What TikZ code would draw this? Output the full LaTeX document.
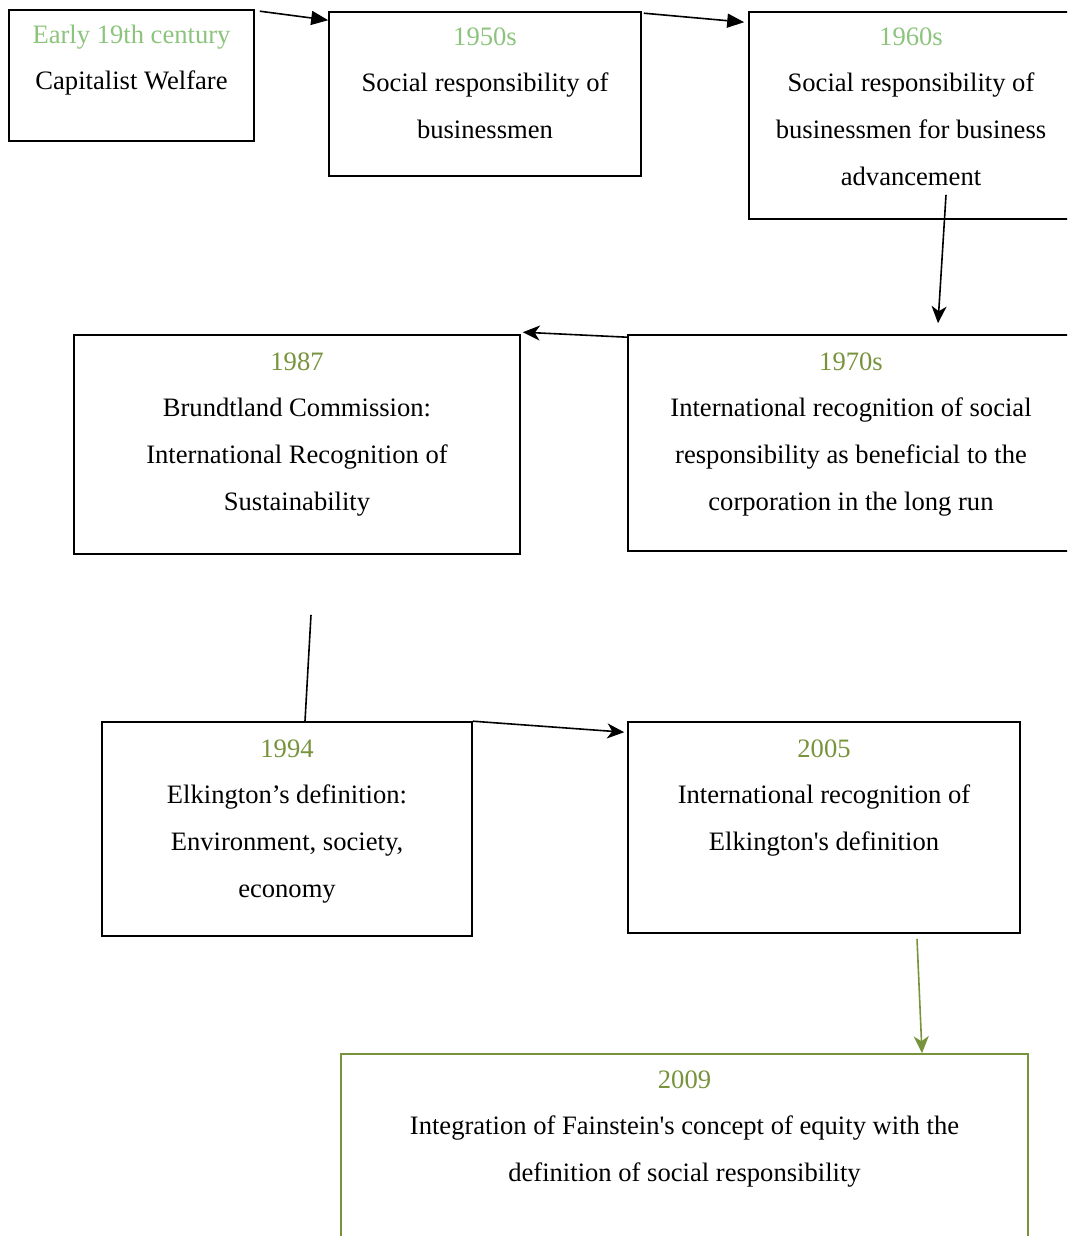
\documentclass[tikz,border=0pt]{standalone}
\usepackage{fontspec}
\setmainfont{Liberation Serif}
\usetikzlibrary{positioning,calc,arrows.meta}
\definecolor{paleGreen}{RGB}{140,196,125}
\definecolor{oliveGreen}{RGB}{119,147,60}

\begin{document}
\begin{tikzpicture}[x=0.5pt,y=-0.5pt,
    box/.style={draw, line width=0.8pt, inner sep=0pt},
    txt/.style={anchor=north, align=center, inner sep=0pt, font=\fontsize{13.3}{23.3}\selectfont},
    tri/.style={-{Triangle[length=8.5pt,width=7pt]}, line width=0.8pt},
    stl/.style={-{Stealth[length=8.5pt,width=7.5pt,inset=2.5pt]}, line width=0.8pt}]
    \useasboundingbox (0,0) rectangle (1067,1236);
    \clip (0,0) rectangle (1067,1236);

    % Boxes
    \node[box, minimum width=122.5pt, minimum height=65.5pt] (early) at (131.5,75.5) {};
    \node[box, minimum width=156pt, minimum height=82pt] (fifties) at (485,94) {};
    \node[box, minimum width=162pt, minimum height=103.5pt] (sixties) at (911,115.5) {};
    \node[box, minimum width=223pt, minimum height=108pt] (seventies) at (851,443) {};
    \node[box, minimum width=223pt, minimum height=109.5pt] (brundtland) at (297,444.5) {};
    \node[box, minimum width=185pt, minimum height=107pt] (elkington) at (287,829) {};
    \node[box, minimum width=196pt, minimum height=105.5pt] (recognition) at (824,827.5) {};
    \node[box, draw=oliveGreen, minimum width=343.5pt, minimum height=113pt] (equity) at (684.5,1167) {};

    % Texts
    \node[txt] (early-t) at ($(early.north)+(0,15)$)
        {\textcolor{paleGreen}{Early 19th century}\\Capitalist Welfare};
    \node[txt] (fifties-t) at ($(fifties.north)+(0,16)$)
        {\textcolor{paleGreen}{1950s}\\Social responsibility of\\businessmen};
    \node[txt] (sixties-t) at ($(sixties.north)+(0,16)$)
        {\textcolor{paleGreen}{1960s}\\Social responsibility of\\businessmen for business\\advancement};
    \node[txt] (seventies-t) at ($(seventies.north)+(0,18)$)
        {\textcolor{oliveGreen}{1970s}\\International recognition of social\\responsibility as beneficial to the\\corporation in the long run};
    \node[txt] (brundtland-t) at ($(brundtland.north)+(0,18)$)
        {\textcolor{oliveGreen}{1987}\\Brundtland Commission:\\International Recognition of\\Sustainability};
    \node[txt] (elkington-t) at ($(elkington.north)+(0,18)$)
        {\textcolor{oliveGreen}{1994}\\Elkington’s definition:\\Environment, society,\\economy};
    \node[txt] (recognition-t) at ($(recognition.north)+(0,18)$)
        {\textcolor{oliveGreen}{2005}\\International recognition of\\Elkington\textquotesingle s definition};
    \node[txt] (equity-t) at ($(equity.north)+(0,17)$)
        {\textcolor{oliveGreen}{2009}\\Integration of Fainstein\textquotesingle s concept of equity with the\\definition of social responsibility};

    % Arrows
    \draw[tri] ($(early.north east)+(5,2)$) -- ($(fifties.north west)+(0,9)$);
    \draw[tri] ($(fifties.north east)+(2,2)$) -- ($(sixties.north west)+(-4,11)$);
    \draw[stl] ($(sixties.south)+(35,-25)$) -- ($(seventies.north)+(87,-11)$);
    \draw[stl] ($(seventies.north west)+(0,3)$) -- ($(brundtland.north east)+(2,-2)$);
    \draw[line width=0.8pt] ($(brundtland.south)+(14,60)$) -- ($(elkington.north)+(18,0)$);
    \draw[stl] (elkington.north east) -- ($(recognition.north west)+(-3,11)$);
    \draw[stl, oliveGreen] ($(recognition.south)+(93,5)$) -- ($(equity.north)+(237.5,0)$);
\end{tikzpicture}
\end{document}
